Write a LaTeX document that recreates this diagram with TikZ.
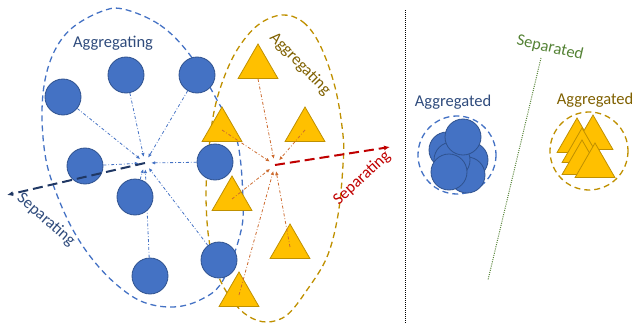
\documentclass[tikz,border=0pt]{standalone}
\usepackage{fontspec}
\setmainfont{Carlito}
\usetikzlibrary{positioning,arrows.meta,shapes.geometric}
\definecolor{ballblue}{HTML}{4472C4}
\definecolor{ballline}{HTML}{2F528F}
\definecolor{trigold}{HTML}{FFC000}
\definecolor{triline}{HTML}{BF9000}
\definecolor{navytext}{HTML}{2F4B7C}
\definecolor{browntext}{HTML}{7F6000}
\definecolor{pullorange}{HTML}{CC6A2E}
\definecolor{pushnavy}{HTML}{203864}
\definecolor{pushred}{HTML}{C00000}
\definecolor{sepgreen}{HTML}{548235}
\pgfdeclarelayer{background}
\pgfsetlayers{background,main}

\begin{document}
\begin{tikzpicture}[
  x=1pt, y=-1pt,
  font=\fontsize{16.5}{18}\selectfont,
  ball/.style={circle, draw=ballline, fill=ballblue, line width=0.8pt,
               minimum size=36pt, inner sep=0pt},
  tri/.style={regular polygon, regular polygon sides=3, draw=triline,
              fill=trigold, line width=0.8pt, minimum size=46pt, inner sep=0pt},
  hub/.style={circle, inner sep=0pt, minimum size=12pt},
  hull/.style={draw=#1, line width=1.3pt, dash pattern=on 6pt off 4pt},
  pullarr/.style={draw=#1, line width=0.8pt,
                  dash pattern=on 3pt off 2pt on 0.8pt off 2pt,
                  -{Latex[length=4pt,width=3.5pt]}},
  pusharr/.style={draw=#1, line width=2pt, dash pattern=on 10pt off 5pt,
                  -{Latex[length=6pt,width=5pt]}},
  lbl/.style={text=#1, inner sep=1pt},
]
\useasboundingbox (0,0) rectangle (633,324);

%====================== HULLS ======================
\draw[hull=ballblue] plot[smooth cycle, tension=0.6] coordinates {
  (123,9) (160,25) (190,55) (217,100) (237,140) (243,200) (240,235) (222,282)
  (200,300) (173,307) (143,302) (117,285) (93,260) (73,230) (57,195) (46,160)
  (42,117) (45,80) (55,50) (72,28) (100,12)};
\draw[hull=triline] plot[smooth cycle, tension=0.6] coordinates {
  (282,15) (303,22) (320,45) (335,87) (343,135) (343,165) (338,215) (327,257)
  (307,290) (287,315) (267,322) (248,316) (232,300) (218,275) (209,240)
  (206,197) (208,160) (213,117) (222,83) (237,50) (258,25)};

%====================== HUBS ======================
\node[hub] (bhub) at (145,163) {};
\node[hub] (ohub) at (275,165) {};

%====================== CIRCLES ======================
\node[ball] (c1) at (63,97) {};
\node[ball] (c2) at (126,75) {};
\node[ball] (c3) at (197,75) {};
\node[ball] (c4) at (85,166) {};
\node[ball] (c5) at (135,197) {};
\node[ball] (c6) at (215,162) {};
\node[ball] (c7) at (150,276) {};
\node[ball] (c8) at (219,260) {};

%====================== TRIANGLES ======================
\node[tri] (t1) at (258,67) {};
\node[tri] (t2) at (222,130) {};
\node[tri] (t3) at (305,130) {};
\node[tri] (t4) at (232,199) {};
\node[tri] (t5) at (290,247) {};
\node[tri] (t6) at (239,295) {};

\begin{pgfonlayer}{background}
\foreach \c in {c1,c2,c3,c4,c5,c6,c7,c8}
  \draw[pullarr=ballblue] (\c) -- (bhub);
\draw[pullarr=pullorange] (t1.south) -- (ohub);
\end{pgfonlayer}

\foreach \t in {t2,t3,t4,t5,t6}
  \draw[pullarr=pullorange] (\t.center) -- (ohub);

%====================== PUSH ARROWS ======================
\coordinate (bend) at (7,195);
\coordinate (rend) at (390,147);
\draw[pusharr=pushnavy] (bhub.center) -- (bend);
\draw[pusharr=pushred] (ohub.center) -- (rend);

%====================== LABELS ======================
\node[lbl=navytext] (aggA) at (113,43) {Aggregating};
\node[lbl=browntext, rotate=-46] (aggB) at (300,64) {Aggregating};
\node[lbl=navytext, rotate=-41] (sepA) at (46,220) {Separating};
\node[lbl=pushred, rotate=43] (sepB) at (362,178) {Separating};

%====================== DIVIDER ======================
\coordinate (dtop) at (405,10);
\coordinate (dbot) at (405,324);
\draw[black, line width=1pt, dash pattern=on 1pt off 1pt] (dtop) -- (dbot);

%====================== RESULT ======================
\node[lbl=navytext] (aggC) at (453,102) {Aggregated};
\node[lbl=browntext] (aggD) at (595,100) {Aggregated};
\node[lbl=sepgreen, rotate=-13] (sepC) at (550,48) {Separated};
\coordinate (gtop) at (541,58);
\coordinate (gbot) at (488,280);
\draw[sepgreen, line width=1pt, dash pattern=on 1pt off 1.2pt] (gtop) -- (gbot);

\draw[hull=ballblue] (457,155) circle (39);
\draw[hull=triline] (589,151) circle (39);

\node[ball] (k1) at (447,150) {};
\node[ball] (k2) at (470,160) {};
\node[ball] (k3) at (467,175) {};
\node[ball] (k4) at (452,160) {};
\node[ball] (k5) at (463,137) {};
\node[ball] (k6) at (449,172) {};

\node[tri] (s1) at (577,141) {};
\node[tri] (s2) at (593,138) {};
\node[tri] (s3) at (582,151) {};
\node[tri] (s4) at (582,163) {};
\node[tri] (s5) at (595,166) {};
\end{tikzpicture}
\end{document}
